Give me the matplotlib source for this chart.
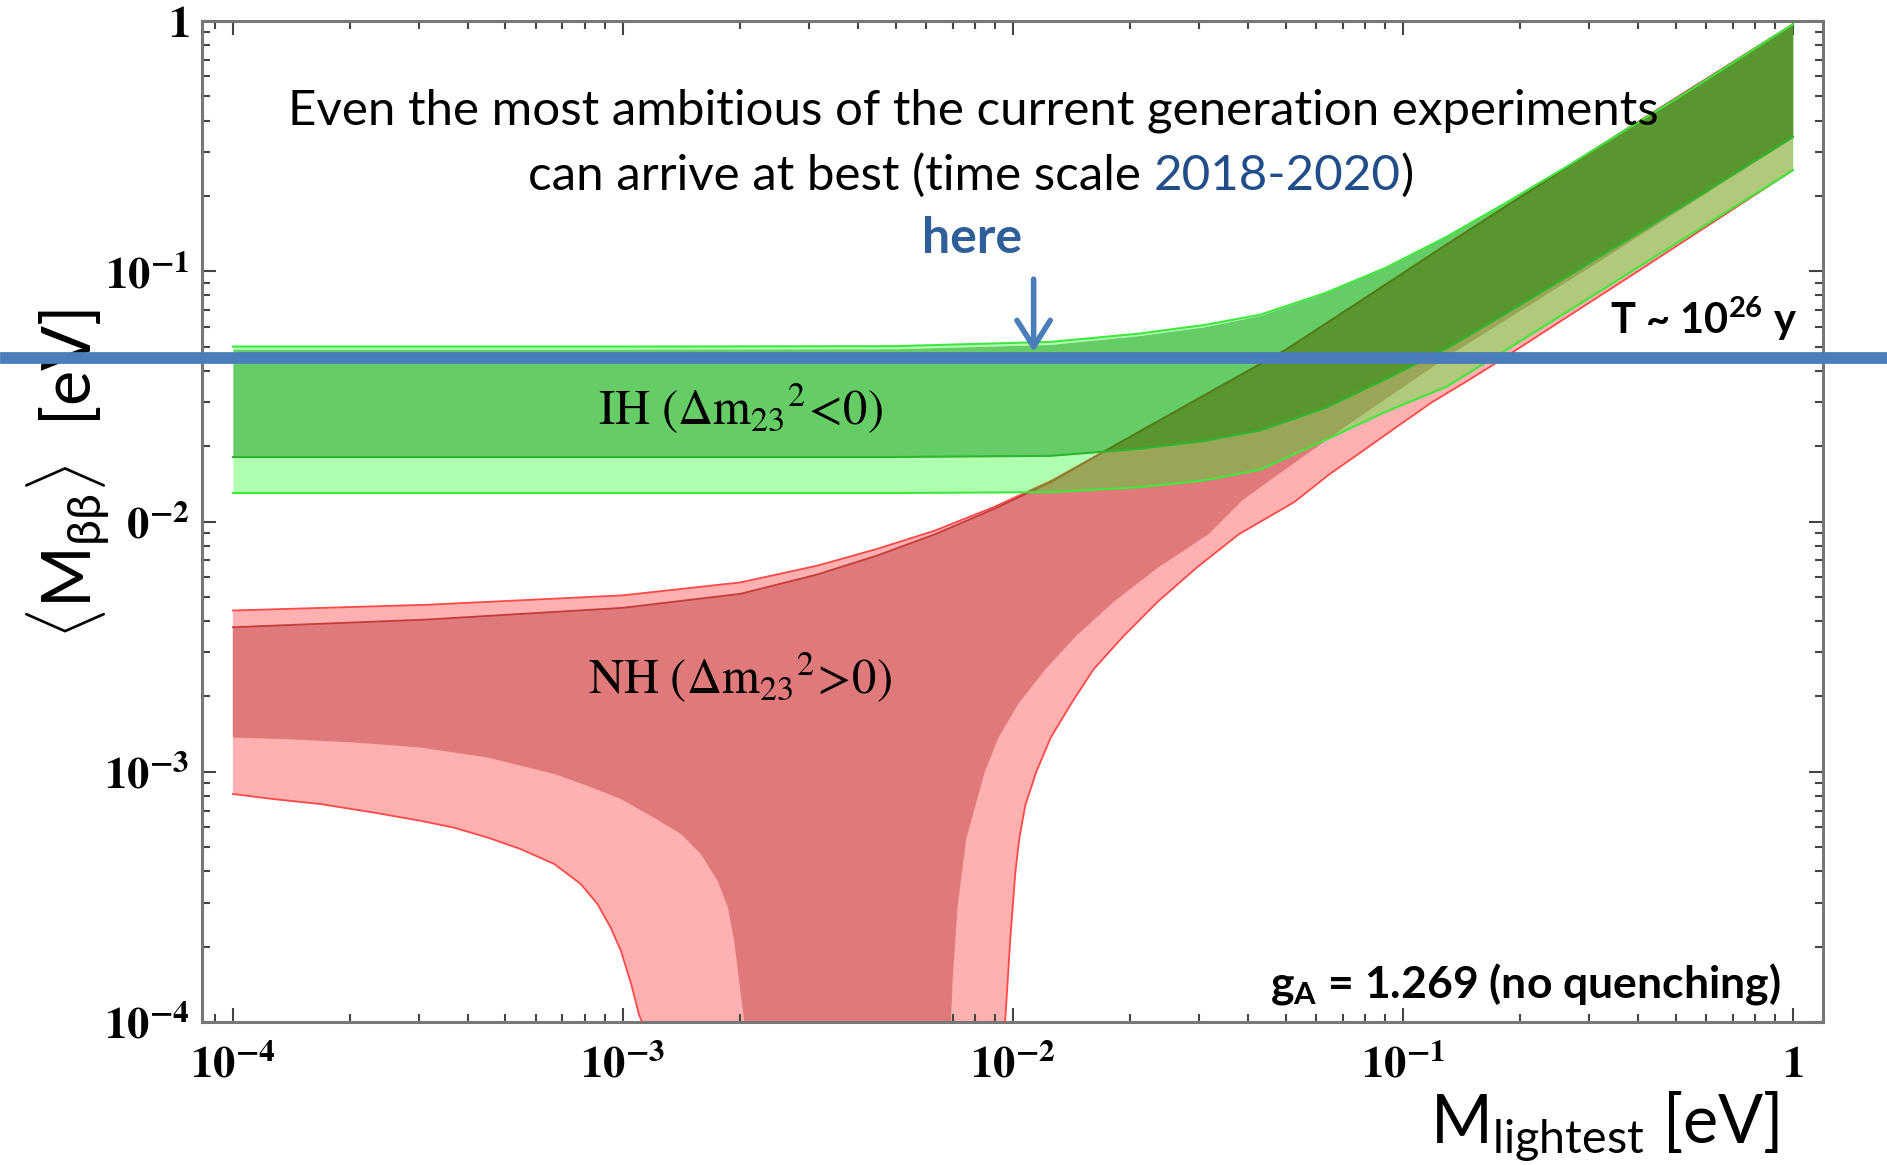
import numpy as np
import matplotlib
matplotlib.use('Agg')
import matplotlib.pyplot as plt
from matplotlib import transforms
from matplotlib.lines import Line2D
from matplotlib.ticker import LogLocator, NullFormatter
from matplotlib.offsetbox import TextArea, HPacker, AnnotationBbox

plt.rcParams['font.family'] = ['Lato', 'DejaVu Sans']
plt.rcParams['mathtext.fontset'] = 'custom'
plt.rcParams['mathtext.rm'] = 'Lato'
plt.rcParams['mathtext.bf'] = 'Lato:bold'
plt.rcParams['mathtext.it'] = 'Lato:italic'

# inverted hierarchy band
ih_x = [1e-4, 1e-3, 5e-3, 0.0125, 0.021, 0.031, 0.043, 0.0634, 0.09, 0.129, 0.184, 0.263, 0.535, 1.0]
ih_top_light = [0.0500, 0.0500, 0.0502, 0.0522, 0.0563, 0.061, 0.067, 0.082, 0.103, 0.137, 0.188, 0.262, 0.52, 0.97]
ih_top = [0.0488, 0.0488, 0.0490, 0.0510, 0.0553, 0.060, 0.0665, 0.082, 0.103, 0.137, 0.188, 0.262, 0.52, 0.97]
ih_mid = [0.0181, 0.0181, 0.0181, 0.0183, 0.0195, 0.0210, 0.0231, 0.0285, 0.037, 0.049, 0.068, 0.095, 0.187, 0.344]
ih_bot = [0.0130, 0.0130, 0.0130, 0.0131, 0.0137, 0.0146, 0.0161, 0.0212, 0.0274, 0.0345, 0.0485, 0.0687, 0.1375, 0.2535]

# normal hierarchy band: upper edges
nh_top_x = [1e-4, 3.16e-4, 1e-3, 2.0e-3, 3.16e-3, 4.47e-3, 6.31e-3, 8.91e-3, 0.0126, 0.0178, 0.0251,
            0.0355, 0.0501, 0.0794, 0.126, 0.316, 1.0]
nh_top_light = [0.00441, 0.00465, 0.00507, 0.00571, 0.00667, 0.00776, 0.0092, 0.0114, 0.0146, 0.0197, 0.0266,
                0.036, 0.0486, 0.0776, 0.1245, 0.3126, 0.97]
nh_top_dark = [0.00378, 0.00406, 0.00452, 0.00514, 0.00615, 0.0073, 0.00889, 0.0112, 0.01445, 0.0197, 0.0266,
               0.036, 0.0486, 0.0776, 0.1245, 0.3126, 0.97]

# normal hierarchy: outer lower edge (1e-6 = full cancellation, below the axis)
nh_bot_x = [1.0e-4, 1.27e-4, 1.68e-4, 2.30e-4, 3.03e-4, 3.69e-4, 4.50e-4, 5.47e-4, 6.67e-4, 7.80e-4,
            8.61e-4, 9.31e-4, 9.89e-4, 1.05e-3, 1.10e-3, 1.125e-3, 1.14e-3, 9.4e-3,
            9.55e-3, 9.84e-3, 0.01014, 0.01038, 0.01076, 0.01148, 0.0125, 0.0141, 0.01607, 0.01923,
            0.02344, 0.02951, 0.03793, 0.0527, 0.0646, 0.0791, 0.0968, 0.1188, 0.1456, 0.1713, 0.4, 1.0]
nh_bot_light = [8.15e-4, 7.78e-4, 7.43e-4, 6.87e-4, 6.37e-4, 5.98e-4, 5.46e-4, 4.91e-4, 4.28e-4, 3.56e-4,
                2.96e-4, 2.38e-4, 1.92e-4, 1.42e-4, 1.07e-4, 9.8e-5, 1e-6, 1e-6,
                1.0e-4, 2.12e-4, 3.94e-4, 5.40e-4, 7.36e-4, 1.0e-3, 1.37e-3, 1.87e-3, 2.56e-3, 3.49e-3,
                4.76e-3, 6.52e-3, 8.89e-3, 0.01197, 0.0154, 0.0192, 0.0240, 0.0300, 0.0363, 0.0425, 0.0999, 0.2535]

# normal hierarchy: inner lower edge
nh_mid_x = [1.0e-4, 1.38e-4, 2.04e-4, 3.03e-4, 4.50e-4, 6.67e-4, 8.11e-4, 9.89e-4, 1.20e-3, 1.41e-3,
            1.585e-3, 1.75e-3, 1.86e-3, 1.93e-3, 1.99e-3, 2.05e-3, 2.08e-3, 6.85e-3,
            6.93e-3, 7.02e-3, 7.21e-3, 7.59e-3, 8.47e-3, 9.18e-3, 0.01033, 0.0121, 0.01452, 0.01811,
            0.02344, 0.0317, 0.03873, 0.043, 0.07, 0.134, 0.3, 1.0]
nh_bot_dark = [1.37e-3, 1.35e-3, 1.31e-3, 1.25e-3, 1.14e-3, 9.8e-4, 8.79e-4, 7.78e-4, 6.56e-4, 5.64e-4,
               4.69e-4, 3.66e-4, 2.86e-4, 2.11e-4, 1.42e-4, 9.9e-5, 1e-6, 1e-6,
               1.0e-4, 1.55e-4, 2.89e-4, 5.40e-4, 1.0e-3, 1.37e-3, 1.87e-3, 2.56e-3, 3.49e-3, 4.77e-3,
               6.51e-3, 8.89e-3, 0.01213, 0.01368, 0.0235, 0.047, 0.103, 0.34]

decades = [1e-4, 1e-3, 1e-2, 1e-1, 1]
tick_labels = [r'$\mathbf{10^{-4}}$', r'$\mathbf{10^{-3}}$', r'$\mathbf{10^{-2}}$', r'$\mathbf{10^{-1}}$', r'$\mathbf{1}$']

sensitivity = 0.0449           # T ~ 1e26 y reach
arrow_x, arrow_from, arrow_to = 0.0113, 0.093, 0.0476

blue = '#4a7ebb'

fig = plt.figure(figsize=(18.87, 11.65), dpi=100)
ax = fig.add_axes([0.107, 0.1227, 0.8591, 0.8593])
ax.set_xscale('log')
ax.set_yscale('log')

# NH (opaque)
ax.fill(np.r_[nh_top_x, nh_bot_x[::-1]], np.r_[nh_top_light, nh_bot_light[::-1]],
        color='#ffb0b0', lw=0, zorder=1)
ax.fill(np.r_[nh_top_x, nh_mid_x[::-1]], np.r_[nh_top_dark, nh_bot_dark[::-1]],
        color='#e07a7a', lw=0, zorder=2)
ax.plot(nh_top_x, nh_top_light, color='#ff4848', lw=1.3, zorder=3)
ax.plot(nh_bot_x, nh_bot_light, color='#ff4848', lw=1.3, zorder=3)
ax.plot(nh_top_x, nh_top_dark, color='#c43c3c', lw=1.3, zorder=3)

# IH (transparent, on top)
ax.fill_between(ih_x, ih_top, ih_mid, color='#00aa00', alpha=0.6, lw=0, zorder=4)
ax.fill_between(ih_x, ih_mid, ih_bot, color='#10ff10', alpha=0.33, lw=0, zorder=4)
ax.fill_between(ih_x, ih_top_light, ih_top, color='#10ff10', alpha=0.33, lw=0, zorder=4)
ax.plot(ih_x, ih_top_light, color='#3ee83e', lw=1.5, zorder=5)
ax.plot(ih_x, ih_bot, color='#3ee83e', lw=1.5, zorder=5)
ax.plot(ih_x, ih_mid, color='#2fb52f', lw=1.5, zorder=5)

ax.set_xlim(8.33e-5, 1.194)
ax.set_ylim(1e-4, 1)

ax.set_xticks(decades)
ax.set_xticklabels(tick_labels, fontsize=32, math_fontfamily='stix')
ax.set_yticks(decades)
ax.set_yticklabels(tick_labels, fontsize=32, math_fontfamily='stix')
for axis in (ax.xaxis, ax.yaxis):
    axis.set_minor_locator(LogLocator(base=10, subs=np.arange(2, 10)))
    axis.set_minor_formatter(NullFormatter())
ax.tick_params(which='both', direction='in', top=True, right=True, color='#444444', width=1.5)
ax.tick_params(which='major', length=10)
ax.tick_params(which='minor', length=6)
ax.tick_params(axis='x', pad=16)
ax.tick_params(axis='y', pad=9)
for s in ax.spines.values():
    s.set_color('#777777')
    s.set_linewidth(2.2)

ax.text(0.332, 0.6124, r'$\mathrm{IH}\ (\Delta \mathrm{m}_{23}{}^{2}\!<\!0)$', transform=ax.transAxes,
        ha='center', va='center', fontsize=35, math_fontfamily='stix', zorder=6)
ax.text(0.332, 0.3442, r'$\mathrm{NH}\ (\Delta \mathrm{m}_{23}{}^{2}\!>\!0)$', transform=ax.transAxes,
        ha='center', va='center', fontsize=35, math_fontfamily='stix', zorder=6)

ax.text(0.4756, 0.910, 'Even the most ambitious of the current generation experiments',
        transform=ax.transAxes, ha='center', va='center', fontsize=35.5, zorder=6)
line2 = HPacker(children=[TextArea('can arrive at best (time scale ', textprops=dict(fontsize=35.5)),
                          TextArea('2018-2020', textprops=dict(fontsize=35.5, color='#1f4e89')),
                          TextArea(')', textprops=dict(fontsize=35.5))],
                align='baseline', pad=0, sep=0)
ax.add_artist(AnnotationBbox(line2, (0.4745, 0.8455), xycoords='axes fraction', frameon=False,
                             box_alignment=(0.5, 0.5), zorder=6))

ax.text(0.475, 0.783, 'here', transform=ax.transAxes, ha='center', va='center', fontsize=36,
        fontweight='bold', color='#2f5f98', zorder=6)
ax.annotate('', xy=(arrow_x, arrow_to), xytext=(arrow_x, arrow_from),
            arrowprops=dict(arrowstyle='->,head_length=0.95,head_width=0.6', color=blue, lw=4,
                            mutation_scale=20, shrinkA=0, shrinkB=0), zorder=7)

ax.text(0.984, 0.7023, r'T ~ 10$^{\mathbf{26}}$ y', transform=ax.transAxes, ha='right', va='center',
        fontsize=30, fontweight='bold', zorder=6)
ax.text(0.974, 0.038, r'$\mathbf{g}_{\mathbf{A}}$ = 1.269 (no quenching)', transform=ax.transAxes,
        ha='right', va='center', fontsize=32, fontweight='bold', zorder=6)

# axis titles as figure text
fig.text(0.036, 0.593, r'$\langle\mathrm{M}_{\mathrm{\beta\beta}}\rangle$  [eV]', rotation=90, ha='center',
         va='center', fontsize=48, bbox=dict(boxstyle='square,pad=0.25', facecolor='white', edgecolor='none'))
fig.text(0.9428, 0.0189, r'$\mathrm{M}_{\mathrm{lightest}}$ [eV]', ha='right', va='baseline', fontsize=48)

# experimental reach line across the whole figure
trans = transforms.blended_transform_factory(fig.transFigure, ax.transData)
fig.add_artist(Line2D([0.003, 1.0], [sensitivity, sensitivity], transform=trans, color=blue,
                      lw=8.5, zorder=10))

fig.savefig('out.png', dpi=100)
